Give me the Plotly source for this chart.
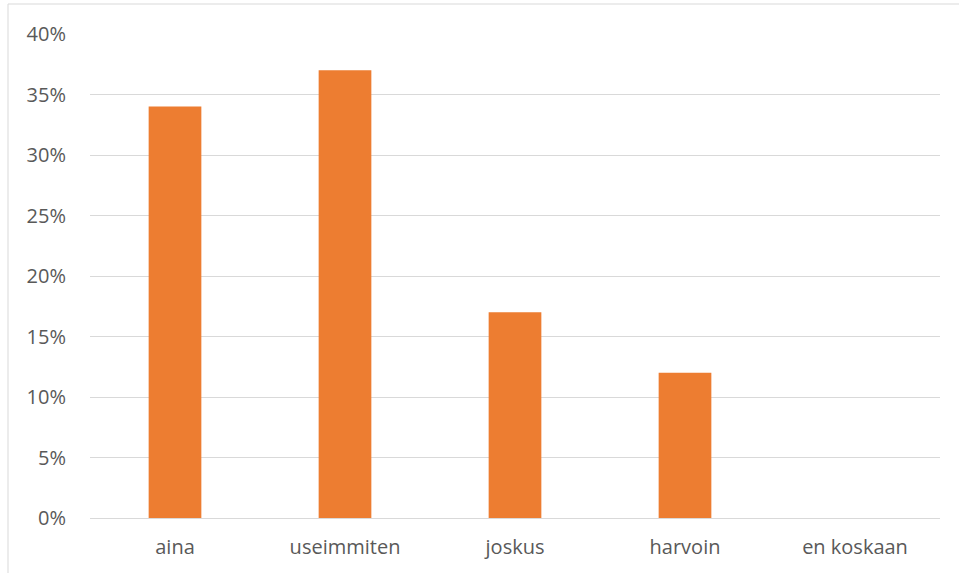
import plotly.graph_objects as go

categories = ["aina", "useimmiten", "joskus", "harvoin", "en koskaan"]
shares = [0.34, 0.37, 0.17, 0.12, 0.0]
y_ticks = [0, 0.05, 0.10, 0.15, 0.20, 0.25, 0.30, 0.35, 0.40]
y_tick_labels = ["0%", "5%", "10%", "15%", "20%", "25%", "30%", "35%", "40%"]

W, H = 959, 573
ml, mr, mt, mb = 90, 19, 34, 55
pw, ph = W - ml - mr, H - mt - mb

fig = go.Figure(
    go.Bar(
        x=categories,
        y=shares,
        marker=dict(color="#ED7D31", line=dict(width=0)),
    )
)

# light chart-area frame
fig.add_shape(
    type="rect",
    xref="paper", yref="paper",
    x0=(8 - ml) / pw, x1=(W + 5 - ml) / pw,
    y0=-(H + 5 - mt - ph) / ph, y1=1 + (mt - 4) / ph,
    line=dict(color="#d9d9d9", width=1),
    fillcolor="rgba(0,0,0,0)",
    layer="below",
)

fig.update_layout(
    width=W, height=H,
    margin=dict(l=ml, r=mr, t=mt, b=mb),
    paper_bgcolor="white",
    plot_bgcolor="white",
    bargap=0.69,
    showlegend=False,
    font=dict(family="Open Sans, sans-serif", size=20, color="#595959"),
)
fig.update_xaxes(
    showgrid=False,
    showline=True, linecolor="#d9d9d9", linewidth=1,
    ticks="", ticklabelstandoff=11,
    tickfont=dict(size=20, color="#595959"),
)
fig.update_yaxes(
    range=[0, 0.40],
    tickvals=y_ticks, ticktext=y_tick_labels,
    showgrid=True, gridcolor="#d9d9d9", gridwidth=1,
    zeroline=False, showline=False, ticks="",
    ticklabelstandoff=23,
    tickfont=dict(size=20, color="#595959"),
)

fig.write_html("out.html")
